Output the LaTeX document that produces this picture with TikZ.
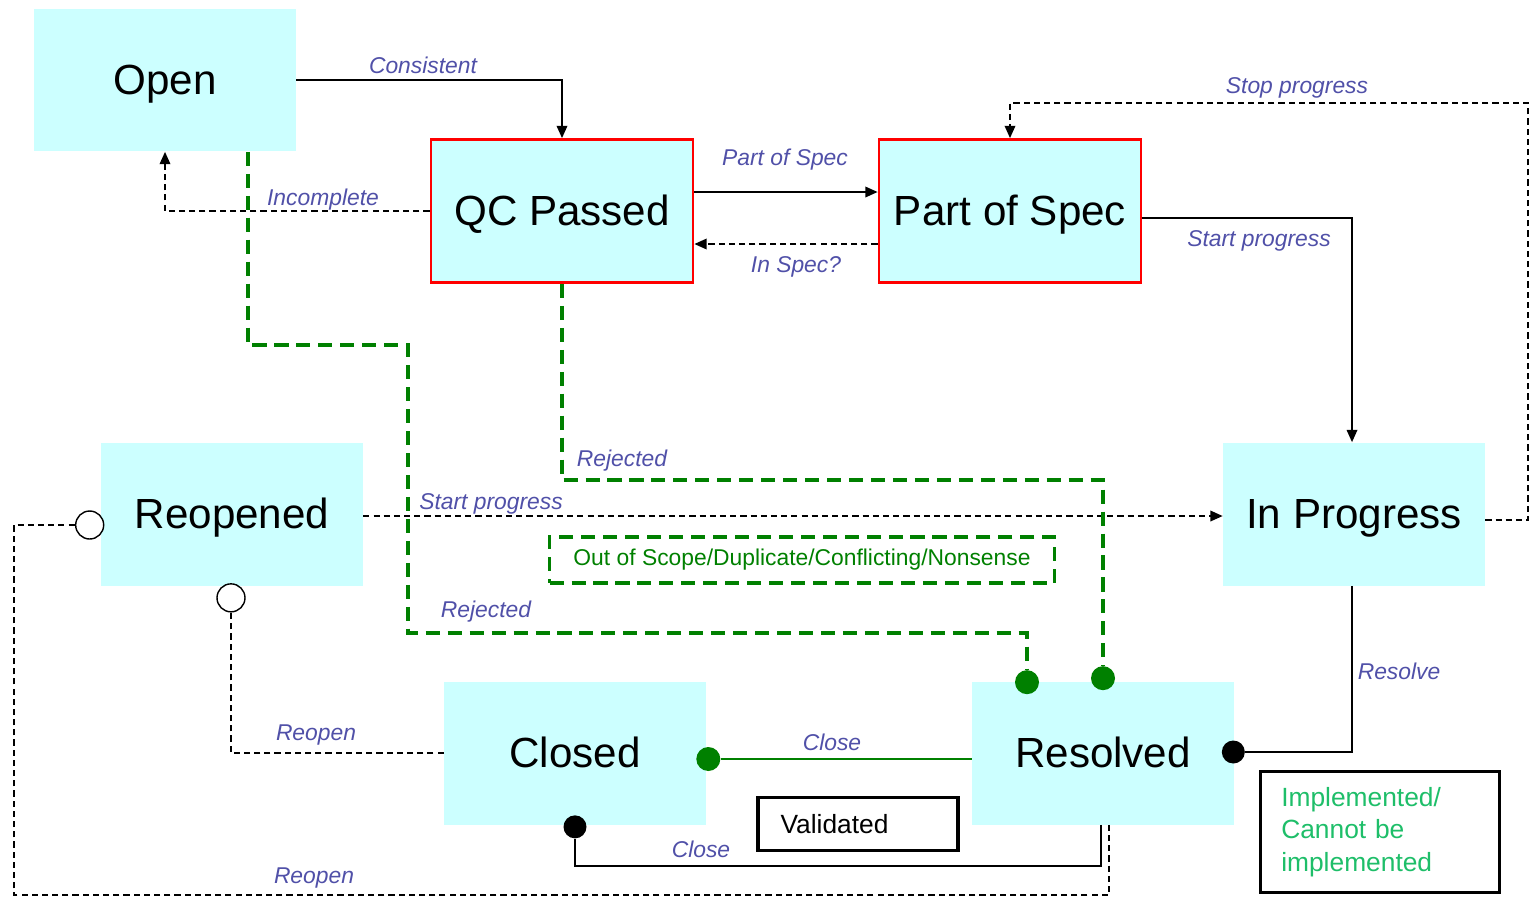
\documentclass[tikz,border=0pt]{standalone}
\usepackage{fontspec}
\setmainfont{Liberation Sans}
\usetikzlibrary{arrows.meta,positioning,calc}
\definecolor{boxfill}{RGB}{204,255,255}
\definecolor{lblcol}{RGB}{80,80,168}
\definecolor{rejgreen}{RGB}{0,128,0}
\definecolor{implgreen}{RGB}{30,190,105}

\begin{document}
\begin{tikzpicture}[x=0.02cm, y=-0.02cm,
    state/.style={fill=boxfill, minimum width=5.24cm, minimum height=2.86cm, inner sep=0pt, text height=17pt, text depth=0pt, font=\fontsize{24}{28}\selectfont},
    spec/.style={state, draw=red, line width=1.6pt},
    lbl/.style={text=lblcol, font=\fontsize{13}{15}\selectfont\itshape, inner sep=0pt},
    flow/.style={line width=1pt, -{Triangle[length=7pt,width=6pt]}},
    back/.style={flow, dash pattern=on 3.5pt off 2.3pt},
    rej/.style={rejgreen, line width=1.9pt, dash pattern=on 8pt off 4.5pt},
    gdot/.style={circle, fill=rejgreen, minimum size=0.48cm, inner sep=0pt},
    bdot/.style={circle, fill=black, minimum size=0.46cm, inner sep=0pt},
    odot/.style={circle, draw=black, line width=0.8pt, fill=white, minimum size=0.56cm, inner sep=0pt},
    note/.style={draw=black, line width=2.2pt, inner sep=0pt, font=\fontsize{15}{18.5}\selectfont}]

    \useasboundingbox (0,0) rectangle (1530,897);

    % states
    \node [state] (open) at (165,80) {Open};
    \node [spec] (qc) at (562,211) {QC Passed};
    \node [spec] (pos) at (1010,211) {Part of Spec};
    \node [state] (reop) at (232,514) {Reopened};
    \node [state] (prog) at (1354,514) {In Progress};
    \node [state] (closed) at (575,753) {Closed};
    \node [state] (res) at (1103,753) {Resolved};

    % notes
    \node [note, minimum width=4cm, minimum height=1.06cm, text width=3.1cm] (valid) at (858,824) {Validated};
    \node [note, minimum width=4.78cm, minimum height=2.42cm, text width=3.95cm, text=implgreen, align=left] (impl) at (1380,832) {Implemented/\\Cannot be\\implemented};
    \node [draw=rejgreen, line width=1.9pt, dash pattern=on 8pt off 4.5pt, text=rejgreen, minimum width=10.1cm, minimum height=0.92cm, inner sep=0pt, font=\fontsize{13}{15}\selectfont] (scope) at (802,560) {Out of Scope/Duplicate/Conflicting/Nonsense};

    % end markers
    \node [gdot] (rj1) at ($(res.north)+(-76,1)$) {};
    \node [gdot] (rj2) at ($(res.north)+(0,-3)$) {};
    \node [gdot] (cgd) at ($(closed.east)+(2,6)$) {};
    \node [bdot] (rsd) at ($(res.east)+(-1,-1)$) {};
    \node [bdot] (cbd) at ($(closed.south)+(0,2)$) {};
    \node [odot] (ro1) at ($(reop.south)+(-1,12)$) {};
    \node [odot] (ro2) at ($(reop.west)+(-11,11)$) {};

    \coordinate (sp) at (1528,103);
    \coordinate (rjA) at (408,345);
    \coordinate (rjB) at (408,633);
    \coordinate (rjC) at (1103,480);
    \coordinate (clA) at (575,866);
    \coordinate (roA) at (14,895);

    % transitions
    \draw [flow] (open.east) -| (qc.north);
    \draw [back] (qc.west) -| (open.south);
    \draw [flow] ($(qc.east)+(0,-19)$) -- ($(pos.west)+(0,-19)$);
    \draw [back] ($(pos.west)+(0,33)$) -- ($(qc.east)+(0,33)$);
    \draw [back] ($(prog.east)+(0,6)$) -| (sp) -| (pos.north);
    \draw [flow] ($(pos.east)+(0,7)$) -| ($(prog.north)+(-2,0)$);
    \draw [back] ($(reop.east)+(0,2)$) -- ($(prog.west)+(0,2)$);
    \draw [line width=1pt] ($(prog.south)+(-2,0)$) |- (rsd);
    \draw [rejgreen, line width=1.4pt] (cgd) -- (cgd -| res.west);
    \draw [line width=1pt] ($(res.south)+(-2,0)$) |- (clA) -- (cbd);
    \draw [line width=0.8pt, dash pattern=on 3.5pt off 2.3pt] (closed.west) -| (ro1);
    \draw [line width=0.8pt, dash pattern=on 3.5pt off 2.3pt] ($(res.south)+(6,0)$) |- (roA) |- (ro2);
    \draw [rej] ($(open.south)+(83,0)$) |- (rjA) -- (rjB) -| (rj1);
    \draw [rej] (qc.south) |- (rjC) -- (rj2);

    % labels
    \node [lbl] (lcons) at (423,65) {Consistent};
    \node [lbl] (linc) at (323,200) {Incomplete};
    \node [lbl] (lpart) at (785,160) {Part of Spec};
    \node [lbl] (lin) at (796,267) {In Spec?};
    \node [lbl] (lstop) at (1297,88) {Stop progress};
    \node [lbl] (lstart) at (1259,241) {Start progress};
    \node [lbl] (lstart2) at (491,504) {Start progress};
    \node [lbl] (lrej1) at (622,461) {Rejected};
    \node [lbl] (lrej2) at (486,612) {Rejected};
    \node [lbl] (lres) at (1399,671) {Resolve};
    \node [lbl] (lclose) at (832,742) {Close};
    \node [lbl] (lclose2) at (701,849) {Close};
    \node [lbl] (lreo) at (316,735) {Reopen};
    \node [lbl] (lreo2) at (314,878) {Reopen};

\end{tikzpicture}
\end{document}
